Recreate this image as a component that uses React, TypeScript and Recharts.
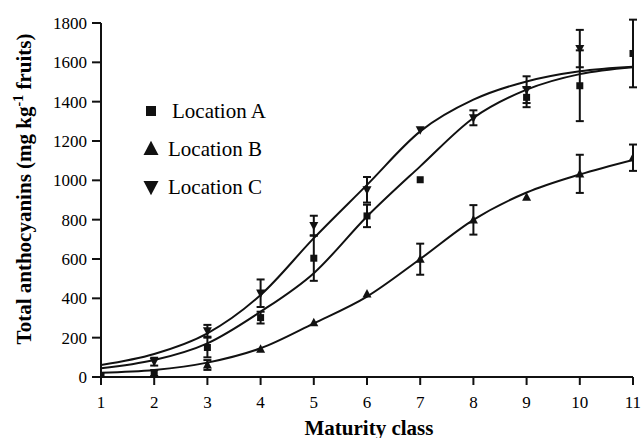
import React from 'react'
import {
  ComposedChart, Line, Scatter, ErrorBar, XAxis, YAxis, Legend
} from 'recharts'

const FONT = '"Liberation Serif", "Times New Roman", serif'
const INK = '#111'

// maturity classes on the x axis
const classes = [1, 2, 3, 4, 5, 6, 7, 8, 9, 10, 11]
const yTicks = [0, 200, 400, 600, 800, 1000, 1200, 1400, 1600, 1800]

// fitted curves read at each class
const fitA = [44, 86, 171, 332, 528, 816, 1071, 1317, 1461, 1540, 1575]
const fitB = [22, 36, 73, 146, 273, 409, 600, 799, 938, 1030, 1104]
const fitC = [61, 117, 222, 417, 706, 977, 1249, 1410, 1503, 1555, 1578]

// measured means and error (null = not visible)
const meanA = [5, 20, 150, 302, 604, 819, 1003, null, 1422, 1481, 1645]
const errA = [0, 15, 50, 30, 115, 57, 0, 0, 50, 180, 172]
const meanB = [null, null, 61, 141, 276, 422, 599, 799, 914, 1033, 1115]
const errB = [0, 0, 25, 0, 0, 0, 79, 75, 0, 97, 67]
const meanC = [null, 78, 235, 426, 770, 952, 1257, 1318, 1461, 1670, null]
const errC = [0, 20, 30, 70, 50, 65, 0, 38, 68, 95, 0]

const curve = (vals: number[]) => classes.map((x, i) => ({ x, y: vals[i] }))
const points = (vals: (number | null)[], errs: number[]) =>
  classes
    .map((x, i) => ({ x, y: vals[i], err: errs[i] || undefined }))
    .filter(p => p.y != null)

const Square = ({ cx, cy, s = 7 }: any) => (
  <rect x={cx - s / 2} y={cy - s / 2} width={s} height={s} fill={INK} />
)
const TriUp = ({ cx, cy, s = 9 }: any) => (
  <polygon
    points={`${cx},${cy - s * 0.55} ${cx - s / 2},${cy + s * 0.4} ${cx + s / 2},${cy + s * 0.4}`}
    fill={INK}
  />
)
const TriDown = ({ cx, cy, s = 9 }: any) => (
  <polygon
    points={`${cx - s / 2},${cy - s * 0.4} ${cx + s / 2},${cy - s * 0.4} ${cx},${cy + s * 0.55}`}
    fill={INK}
  />
)

const series = [
  { name: 'Location A', fit: fitA, mean: meanA, err: errA, shape: Square, legendSize: 10, pad: 4 },
  { name: 'Location B', fit: fitB, mean: meanB, err: errB, shape: TriUp, legendSize: 15, pad: 0 },
  { name: 'Location C', fit: fitC, mean: meanC, err: errC, shape: TriDown, legendSize: 15, pad: 0 },
]

const renderLegend = () => (
  <div style={{ fontFamily: FONT, fontSize: 21, color: '#000' }}>
    {series.map(s => {
      const Shape = s.shape
      return (
        <div key={s.name} style={{ display: 'flex', alignItems: 'center', height: 38 }}>
          <svg width={26} height={20}>
            <Shape cx={13} cy={10} s={s.legendSize} />
          </svg>
          <span style={{ marginLeft: 4 + s.pad }}>{s.name}</span>
        </div>
      )
    })}
  </div>
)

function YTitle({ viewBox }: any) {
  const vb = viewBox ?? { x: 0, y: 23, width: 101, height: 354 }
  const x = vb.x + 31
  const y = vb.y + vb.height / 2 - 11
  return (
    <text x={x} y={y} transform={`rotate(-90 ${x} ${y})`} textAnchor="middle"
      fontFamily={FONT} fontSize={21} fontWeight="bold" fill="#000">
      Total anthocyanins (mg kg<tspan dy={-8} fontSize={14}>-1</tspan>
      <tspan dy={8}> fruits)</tspan>
    </text>
  )
}

function XTitle({ viewBox }: any) {
  const vb = viewBox ?? { x: 101, y: 377, width: 532, height: 61 }
  return (
    <text x={vb.x + vb.width / 2 + 2} y={vb.y + vb.height - 3} textAnchor="middle"
      fontFamily={FONT} fontSize={21} fontWeight="bold" fill="#000">
      Maturity class
    </text>
  )
}

const tickStyle = { fontSize: 17, fill: '#000', fontFamily: FONT }
const axisLine = { stroke: INK, strokeWidth: 2 }

export default function App() {
  return (
    <div>
      <style>{'body{margin:0;background:#fff}'}</style>
      <ComposedChart width={641} height={438} margin={{ top: 23, right: 8, bottom: 0, left: 0 }}>
        <XAxis
          type="number" dataKey="x" domain={[1, 11]} ticks={classes} allowDataOverflow
          height={61} tickSize={8} tickMargin={11} tick={tickStyle}
          axisLine={axisLine} tickLine={axisLine} label={<XTitle />}
        />
        <YAxis
          type="number" domain={[0, 1800]} ticks={yTicks} allowDataOverflow
          width={101} tickSize={9} tickMargin={5} tick={tickStyle}
          axisLine={axisLine} tickLine={axisLine} label={<YTitle />}
        />
        {series.map(s => (
          <Line
            key={s.name + '-fit'} data={curve(s.fit)} dataKey="y" type="monotone"
            stroke={INK} strokeWidth={2} dot={false} activeDot={false}
            legendType="none" isAnimationActive={false}
          />
        ))}
        {series.map(s => (
          <Scatter
            key={s.name} name={s.name} data={points(s.mean, s.err)} dataKey="y"
            shape={s.shape} isAnimationActive={false}
          >
            <ErrorBar dataKey="err" direction="y" width={4} stroke={INK} strokeWidth={2} />
          </Scatter>
        ))}
        <Legend
          layout="vertical" align="center" verticalAlign="middle"
          wrapperStyle={{ left: 138, top: 92, width: 'auto', height: 'auto' }}
          content={renderLegend}
        />
      </ComposedChart>
    </div>
  )
}
